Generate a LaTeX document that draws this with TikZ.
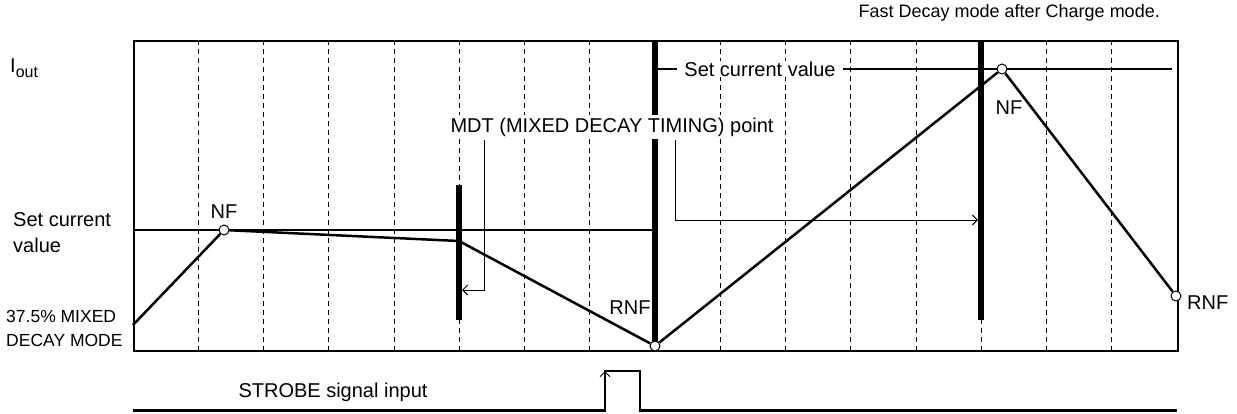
\documentclass[tikz,border=0pt]{standalone}
\usepackage{fontspec}
\setmainfont{Liberation Sans}
\usetikzlibrary{arrows.meta}
\begin{document}
\begin{tikzpicture}[x=1pt,y=-1pt,
  lbl/.style={inner sep=0pt, font=\fontsize{20}{26}\selectfont},
  smalllbl/.style={inner sep=0pt, font=\fontsize{17.5}{24}\selectfont},
  gridline/.style={line width=1pt, dash pattern=on 5pt off 4pt},
  thickbar/.style={line width=5.5pt},
  curve/.style={line width=2.5pt, line join=miter},
  pt/.style={circle, draw, fill=white, line width=1pt, minimum size=10pt, inner sep=0pt},
  arr/.style={line width=1pt, -{Straight Barb[length=5pt,width=10pt]}},
]
\useasboundingbox (0,0) rectangle (1237,413);
% grid
\foreach \k in {1,...,7,9,10,11,12,13,14,15}
  \draw[gridline] ({133+65.25*\k},40) -- ({133+65.25*\k},350);
\node[draw, line width=1.5pt, minimum width=1044pt, minimum height=310pt, inner sep=0pt, anchor=north west] (box) at (133,40) {};
% set current lines
\coordinate (scl0) at (133,230);
\coordinate (scl1) at (655,230);
\draw[curve] (scl0) -- (scl1);
\coordinate (scu0) at (655,69);
\coordinate (scu1) at (1172,69);
\draw[curve] (scu0) -- (scu1);
% thick bars
\coordinate (b1t) at (459,185); \coordinate (b1b) at (459,320);
\coordinate (b2t) at (655,40);  \coordinate (b2b) at (655,342);
\coordinate (b3t) at (981,40);  \coordinate (b3b) at (981,320);
\draw[thickbar] (b1t) -- (b1b);
\draw[thickbar] (b2t) -- (b2b);
\draw[thickbar] (b3t) -- (b3b);
% labels with white background
\node[fill=white, inner sep=3pt, font=\fontsize{20}{24}\selectfont] (mdt) at (612,127) {MDT (MIXED DECAY TIMING) point};
\node[fill=white, inner sep=0pt, inner xsep=7pt, minimum height=16pt, font=\fontsize{20}{24}\selectfont] (scv) at (760,69) {Set current value};
% MDT arrows
\coordinate (a1s) at (484,140); \coordinate (a1e) at (462,290);
\coordinate (a2s) at (675,140); \coordinate (a2e) at (978,220);
\draw[arr] (a1s) |- (a1e);
\draw[arr] (a2s) |- (a2e);
% current waveform
\coordinate (s0) at (133,325);
\coordinate (m1) at (459,241);
\node[pt] (nf1) at (224,230) {};
\node[pt] (rnf1) at (655,346) {};
\node[pt] (nf2) at (1002,69) {};
\node[pt] (rnf2) at (1176,296) {};
\draw[curve] (s0) -- (nf1) -- (m1) -- (rnf1) -- (nf2) -- (rnf2);
% point labels
\node[lbl] (lnf1) at (224,212) {NF};
\node[lbl] (lrnf1) at (630,308) {RNF};
\node[lbl] (lnf2) at (1009,108) {NF};
\node[lbl, anchor=west] (lrnf2) at (1187,303) {RNF};
% left labels
\node[lbl, anchor=west] (iout) at (10,68) {I\raisebox{-5pt}{\fontsize{16}{16}\selectfont out}};
\node[lbl, anchor=west, align=left] (setcur) at (13,233) {Set current\\value};
\node[smalllbl, anchor=west, align=left] (mixed) at (6,328) {37.5\% MIXED\\DECAY MODE};
\node[inner sep=0pt, anchor=east, font=\fontsize{18}{22}\selectfont] (title) at (1160,13) {Fast Decay mode after Charge mode.};
% strobe
\coordinate (st0) at (133,410.5);
\coordinate (st1) at (605,410.5);
\coordinate (st2) at (605,371);
\coordinate (st3) at (640,371);
\coordinate (st4) at (640,410.5);
\coordinate (st5) at (1177,410.5);
\draw[line width=2.5pt, line join=miter] (st0) -- (st1) -- (st2) -- (st3) -- (st4) -- (st5);
\coordinate (sa0) at (605,392);
\coordinate (sa1) at (605,371);
\draw[arr] (sa0) -- (sa1);
\node[lbl] (strobe) at (333,392) {STROBE signal input};
\end{tikzpicture}
\end{document}
